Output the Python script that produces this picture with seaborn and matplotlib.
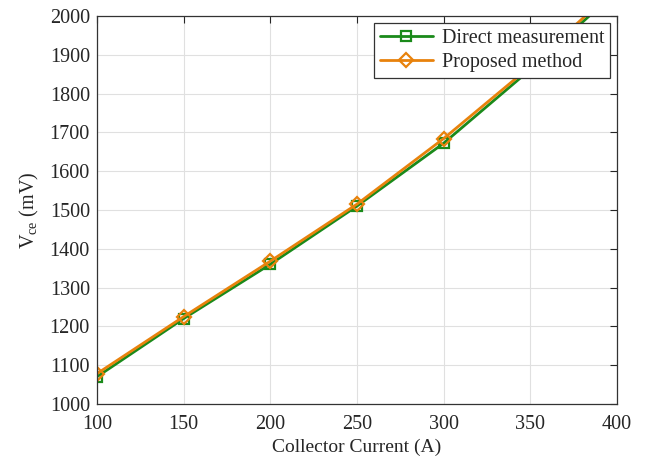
import matplotlib
matplotlib.use("Agg")
import matplotlib.pyplot as plt
import seaborn as sns
import pandas as pd

current = [100, 150, 200, 250, 300, 350, 400]
direct = [1070, 1220, 1360, 1510, 1672, 1862, 2065]
proposed = [1078, 1225, 1368, 1515, 1684, 1870, 2075]
xticks = [100, 150, 200, 250, 300, 350, 400]
yticks = [1000, 1100, 1200, 1300, 1400, 1500, 1600, 1700, 1800, 1900, 2000]

sns.set_style("white")
plt.rcParams['font.family'] = ['Liberation Serif', 'DejaVu Serif']

fig = plt.figure(figsize=(6.46, 4.58), dpi=100)
ax = fig.add_axes([0.150, 0.118, 0.805, 0.847])

df = pd.DataFrame({"x": current, "Direct measurement": direct, "Proposed method": proposed})
sns.lineplot(data=df, x="x", y="Direct measurement", ax=ax, color="#1a8a1a", lw=2,
             marker="s", markersize=7, markerfacecolor="none", markeredgecolor="#1a8a1a",
             markeredgewidth=1.6, label="Direct measurement")
sns.lineplot(data=df, x="x", y="Proposed method", ax=ax, color="#e8820c", lw=2,
             marker="D", markersize=7, markerfacecolor="none", markeredgecolor="#e8820c",
             markeredgewidth=1.6, label="Proposed method")

ax.set_xlim(100, 400)
ax.set_ylim(1000, 2000)
ax.set_xticks(xticks)
ax.set_yticks(yticks)
ax.grid(True, color="#e0e0e0", lw=0.8)
ax.tick_params(direction="in", top=True, right=True, length=5, labelsize=14.5, width=0.8)
ax.tick_params(axis="y", pad=5)
ax.tick_params(axis="x", pad=8)
for s in ax.spines.values():
    s.set_color("#333333")
    s.set_linewidth(0.9)
ax.set_xlabel("Collector Current (A)", fontsize=14, labelpad=3)
ax.set_ylabel(r"V$_{\mathregular{ce}}$ (mV)", fontsize=14.5, labelpad=6)
leg = ax.legend(loc="upper right", fontsize=14.5, frameon=True, fancybox=False,
                edgecolor="#333333", framealpha=1, borderpad=0.3, handlelength=2.6,
                handletextpad=0.45, labelspacing=0.25, borderaxespad=0,
                bbox_to_anchor=(0.987, 0.982))
leg.get_frame().set_linewidth(0.9)

fig.savefig("out.png", dpi=100)
